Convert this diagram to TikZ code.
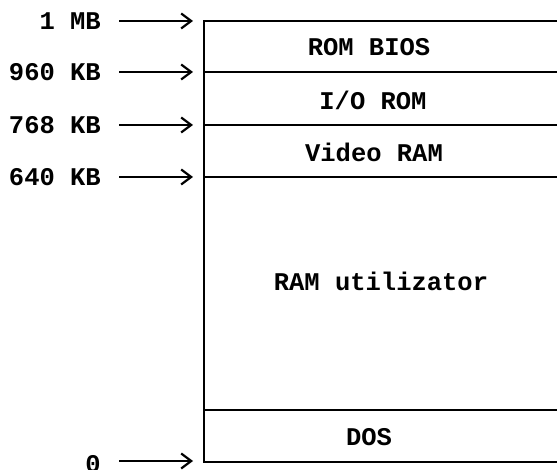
\documentclass[tikz,border=0pt]{standalone}
\usepackage{fontspec}
\setmonofont{Liberation Mono}
\usetikzlibrary{arrows.meta}
\begin{document}
\begin{tikzpicture}[x=1pt,y=1pt,
  lbl/.style={font=\ttfamily\bfseries\fontsize{25.5}{28}\selectfont, inner sep=0pt},
  addr/.style={lbl, anchor=east},
  ptr/.style={line width=2pt, -{Straight Barb[length=10pt,width=15pt,line width=2.2pt]}},
  wall/.style={line width=2.2pt}]
\useasboundingbox (0,0) rectangle (557,469);
% boundaries
\coordinate (t0) at (204,448);
\coordinate (t1) at (204,397);
\coordinate (t2) at (204,344);
\coordinate (t3) at (204,292);
\coordinate (t4) at (204,59);
\coordinate (t5) at (204,7);
\coordinate (r0) at (557,448);
\coordinate (r1) at (557,397);
\coordinate (r2) at (557,344);
\coordinate (r3) at (557,292);
\coordinate (r4) at (557,59);
\coordinate (r5) at (557,7);
\draw[wall] (r0) -- (t0) -- (t5) -- (r5);
\draw[wall] (t1) -- (r1);
\draw[wall] (t2) -- (r2);
\draw[wall] (t3) -- (r3);
\draw[wall] (t4) -- (r4);
% block labels
\node[lbl] (rombios) at (369,422) {ROM BIOS};
\node[lbl] (iorom) at (373,369) {I/O ROM};
\node[lbl] (video) at (374,317) {Video RAM};
\node[lbl] (ramu) at (381,188) {RAM utilizator};
\node[lbl] (dos) at (369,32) {DOS};
% address labels
\node[addr] (a0) at (101,448) {1 MB};
\node[addr] (a1) at (101,397) {960 KB};
\node[addr] (a2) at (101,344) {768 KB};
\node[addr] (a3) at (101,292) {640 KB};
\node[addr] (a5) at (101,5) {0};
\coordinate (s0) at (119,448);
\coordinate (s1) at (119,397);
\coordinate (s2) at (119,344);
\coordinate (s3) at (119,292);
\coordinate (s5) at (119,8);
\coordinate (e0) at (193,448);
\coordinate (e1) at (193,397);
\coordinate (e2) at (193,344);
\coordinate (e3) at (193,292);
\coordinate (e5) at (193,8);
\draw[ptr] (s0) -- (e0);
\draw[ptr] (s1) -- (e1);
\draw[ptr] (s2) -- (e2);
\draw[ptr] (s3) -- (e3);
\draw[ptr] (s5) -- (e5);
\end{tikzpicture}
\end{document}
